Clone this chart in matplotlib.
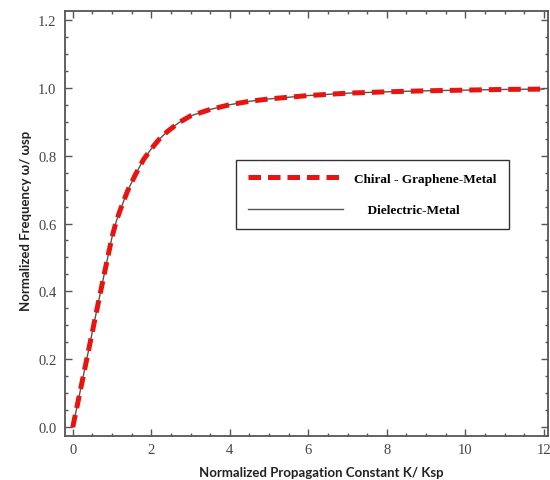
import matplotlib
matplotlib.use("Agg")
import matplotlib.pyplot as plt
from matplotlib.ticker import MultipleLocator, FormatStrFormatter

# Normalized propagation constant and frequency of the surface mode
k_norm = [0.0, 0.2, 0.4, 0.6, 0.8, 1.0, 1.1, 1.2, 1.4, 1.6, 1.8, 2.0, 2.2, 2.4,
          2.7, 3.0, 3.5, 4.0, 4.5, 5.0, 6.0, 7.0, 8.0, 9.0, 10.0, 11.0, 12.0]
w_chiral = [0.0, 0.112, 0.225, 0.338, 0.45, 0.56, 0.603, 0.637, 0.697, 0.745,
            0.788, 0.82, 0.848, 0.87, 0.897, 0.917, 0.936, 0.95, 0.96, 0.967,
            0.977, 0.984, 0.988, 0.991, 0.993, 0.995, 0.996]
w_dielectric = list(w_chiral)

labels = ["Chiral - Graphene-Metal", "    Dielectric-Metal"]
x_ticks = [0, 2, 4, 6, 8, 10, 12]
y_ticks = [0.0, 0.2, 0.4, 0.6, 0.8, 1.0, 1.2]

fig = plt.figure(figsize=(5.5, 4.81), dpi=100)
ax = fig.add_axes([0.118, 0.0915, 0.878, 0.8835])

ax.plot(k_norm, w_dielectric, color="#555555", lw=1.0, label=labels[1], zorder=2)
red, = ax.plot(k_norm, w_chiral, color="#e8140f", lw=3.6, label=labels[0],
               solid_capstyle="butt", dash_capstyle="butt", zorder=3)
red.set_dashes((2.5, 1.4))

ax.set_xlim(-0.2, 12.1)
ax.set_ylim(-0.026, 1.226)
ax.set_xticks(x_ticks)
ax.set_yticks(y_ticks)
ax.yaxis.set_major_formatter(FormatStrFormatter("%.1f"))
ax.xaxis.set_minor_locator(MultipleLocator(0.5))
ax.yaxis.set_minor_locator(MultipleLocator(0.05))
ax.tick_params(which="both", direction="in", top=True, right=True,
               color="#555555", width=1.0)
ax.tick_params(which="major", length=5)
ax.tick_params(which="minor", length=2.5)
for lab in ax.get_xticklabels() + ax.get_yticklabels():
    lab.set_fontfamily("Liberation Serif")
    lab.set_fontsize(10.5)
    lab.set_color("#444444")
ax.tick_params(axis="x", pad=5)
ax.tick_params(axis="y", pad=6)
for sp in ax.spines.values():
    sp.set_color("#555555")
    sp.set_linewidth(1.3)

ax.set_xlabel("Normalized Propagation Constant K/ Ksp", fontfamily="Lato",
              fontweight="bold", fontsize=9.5, color="#222222")
ax.set_ylabel("Normalized Frequency ω/ ωsp", fontfamily=["Lato", "DejaVu Sans"],
              fontweight="bold", fontsize=9.5, color="#222222")
ax.xaxis.set_label_coords(0.53, -0.07)
ax.yaxis.set_label_coords(-0.068, 0.508)

handles, lbls = ax.get_legend_handles_labels()
leg = ax.legend([handles[1], handles[0]], [lbls[1], lbls[0]],
                loc="upper left", bbox_to_anchor=(0.34, 0.665),
                handlelength=7.2, handletextpad=0.8, labelspacing=1.45,
                borderpad=0.95, fancybox=False, framealpha=1,
                prop={"family": "Liberation Serif", "weight": "bold", "size": 9.5})
leg.get_frame().set_edgecolor("#333333")
leg.get_frame().set_linewidth(1.0)

fig.savefig("out.png", dpi=100)
